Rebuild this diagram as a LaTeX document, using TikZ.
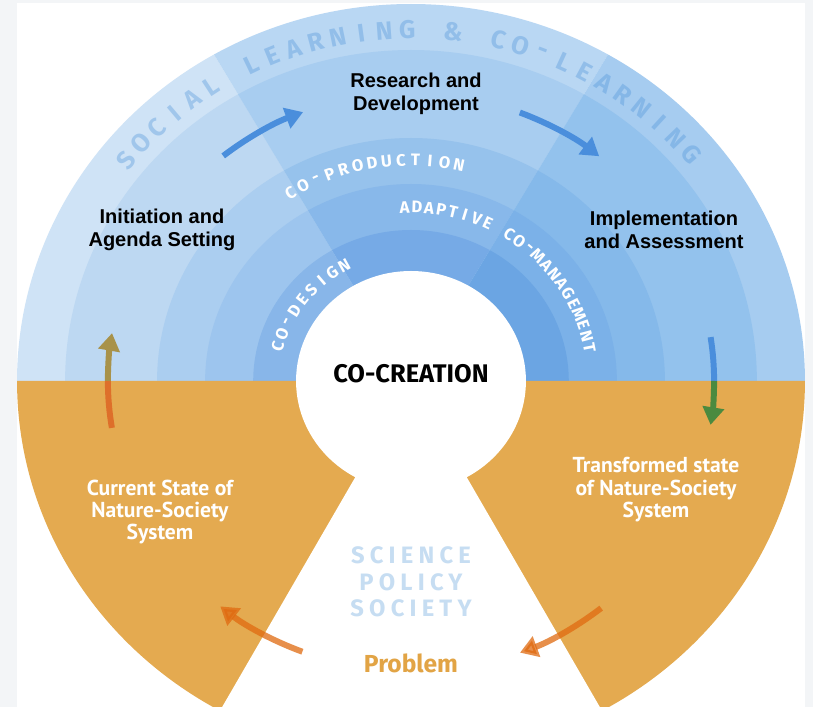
\documentclass[tikz,border=0pt]{standalone}
\usepackage{fontspec}
\usepackage{graphicx}
\setmainfont{Liberation Sans}
\newfontfamily\ringfont{Fira Sans}
\newfontfamily\statefont{PT Sans}
\usetikzlibrary{arrows.meta}

\definecolor{pagebg}{HTML}{F3F5F7}
\definecolor{skyLA}{HTML}{CFE3F6}
\definecolor{skyLB}{HTML}{BDD8F2}
\definecolor{skyLC}{HTML}{ABCEF0}
\definecolor{skyLD}{HTML}{9DC5EE}
\definecolor{skyLE}{HTML}{88B6E9}
\definecolor{skyMA}{HTML}{B9D7F3}
\definecolor{skyMB}{HTML}{A8CDF0}
\definecolor{skyMC}{HTML}{96C2EC}
\definecolor{skyMD}{HTML}{88B8EA}
\definecolor{skyME}{HTML}{76AAE6}
\definecolor{skyRA}{HTML}{A6CCF0}
\definecolor{skyRB}{HTML}{93C2ED}
\definecolor{skyRC}{HTML}{85B9EA}
\definecolor{skyRD}{HTML}{7BB1E8}
\definecolor{skyRE}{HTML}{6BA5E3}
\definecolor{ochre}{HTML}{E4AA50}
\definecolor{flowblue}{HTML}{4A8EDC}
\definecolor{flowolive}{HTML}{A8924A}
\definecolor{floworange}{HTML}{DE6F2A}
\definecolor{flowgreen}{HTML}{4B8A3F}
\definecolor{flowrust}{HTML}{E06A10}
\definecolor{trackblue}{HTML}{4A90D9}
\definecolor{triadblue}{HTML}{C6DDF2}
\definecolor{problemtxt}{HTML}{E2A445}

\tikzset{
  stage/.style={align=center, font=\bfseries\fontsize{11.4}{13}\selectfont},
  sysstate/.style={align=center, text=white,
                   font=\statefont\bfseries\fontsize{12.3}{12.8}\selectfont},
  outerchar/.style={inner sep=0pt, text=trackblue, text opacity=0.35,
                    font=\ringfont\bfseries\fontsize{14.5}{14.5}\selectfont},
  innerchar/.style={inner sep=0pt, text=white,
                    font=\ringfont\bfseries\fontsize{9.5}{9.5}\selectfont},
  triad/.style={align=center, text=triadblue,
                font=\ringfont\bfseries\addfontfeature{LetterSpace=22}\fontsize{13.5}{15}\selectfont},
  flowline/.style={line width=3.4pt},
  flow/.style={flowline, -{Triangle[length=10pt, width=12pt]}},
}

\begin{document}
\begin{tikzpicture}[x=0.2mm, y=0.2mm]
  \useasboundingbox (-411,-326) rectangle (402,381);
  \clip (-411,-326) rectangle (402,381);
  \fill[pagebg] (-411,-326) rectangle (402,381);
  \fill[white] (-394,-326) rectangle (394,378);

  \begin{scope}[xscale=1.045]
    % upper half: three 60 degree sectors, rings getting darker inwards
    \foreach \a/\b/\s in {120/180/L, 60/120/M, 0/60/R}
      \foreach \r/\k in {377/A, 331/B, 243/C, 197/D, 151/E}
        \fill[sky\s\k] (0,0) -- (\a:\r) arc[start angle=\a, end angle=\b, radius=\r] -- cycle;

    % lower half with the keyhole
    \fill[ochre] (0:377) arc[start angle=0, end angle=-180, radius=377] -- cycle;
    \fill[white] (0,0) circle[radius=110];
    \fill[white] (0,0) -- (241:600) -- (299:600) -- cycle;

    % ring labels
    \foreach \ch [count=\i] in {S,O,C,I,A,L,{},L,E,A,R,N,I,N,G,{},\&,{},C,O,-,L,E,A,R,N,I,N,G}
      \node[outerchar, rotate=141-(\i-1)*3.6-90] at ({141-(\i-1)*3.6}:351) {\ch};
    \foreach \ch [count=\i] in {C,O,-,P,R,O,D,U,C,T,I,O,N}
      \node[innerchar, rotate=121.5-(\i-1)*3.625-90] at ({121.5-(\i-1)*3.625}:221) {\ch};
    \foreach \ch [count=\i] in {A,D,A,P,T,I,V,E,{},C,O,-,M,A,N,A,G,E,M,E,N,T}
      \node[innerchar, rotate=92-(\i-1)*3.857-90] at ({92-(\i-1)*3.857}:174) {\ch};
    \foreach \ch [count=\i] in {C,O,-,D,E,S,I,G,N}
      \node[innerchar, rotate=165-(\i-1)*5.75-90] at ({165-(\i-1)*5.75}:132) {\ch};

    % cycle arrows
    \coordinate (upA) at (189.3:290);
    \coordinate (upB) at (180:290);
    \coordinate (rdA) at (128.6:288);
    \coordinate (diA) at (68.8:288);
    \coordinate (dnA) at (8.7:290);
    \coordinate (dnB) at (0:290);
    \coordinate (pbL) at (249:290);
    \coordinate (pbR) at (308.7:291);

    \draw[flowline, floworange] (upA) arc[start angle=189.3, end angle=180, radius=290];
    \draw[flow, flowolive] (upB) arc[start angle=180, end angle=170.5, radius=290];
    \draw[flow, flowblue] (rdA) arc[start angle=128.6, end angle=111, radius=288];
    \draw[flow, flowblue] (diA) arc[start angle=68.8, end angle=51.3, radius=288];
    \draw[flowline, flowblue] (dnA) arc[start angle=8.7, end angle=0, radius=290];
    \draw[flow, flowgreen] (dnB) arc[start angle=0, end angle=-8.7, radius=290];
    \draw[flow, flowrust, opacity=0.75] (pbL) arc[start angle=249, end angle=231, radius=290];
    \draw[flow, flowrust, opacity=0.75] (pbR) arc[start angle=308.7, end angle=291, radius=291];
  \end{scope}

  \node[stage] (initiation) at (-249,151) {Initiation and\\Agenda Setting};
  \node[stage] (research) at (5,287) {Research and\\Development};
  \node[stage] (implement) at (253,151) {Implementation\\and Assessment};
  \node[font=\ringfont\bfseries\fontsize{14.5}{14.5}\selectfont] (cocreation) at (0,7) {CO-CREATION};

  \node[sysstate] (current) at (-251,-131) {Current State of\\Nature-Society\\System};
  \node[sysstate] (transformed) at (245,-109) {Transformed state\\of Nature-Society\\System};
  \node[triad] (sps) at (0,-201) {SCIENCE\\POLICY\\SOCIETY};
  \node[text=problemtxt, font=\ringfont\bfseries\fontsize{14}{14}\selectfont] (problem) at (0,-282) {Problem};
\end{tikzpicture}
\end{document}
